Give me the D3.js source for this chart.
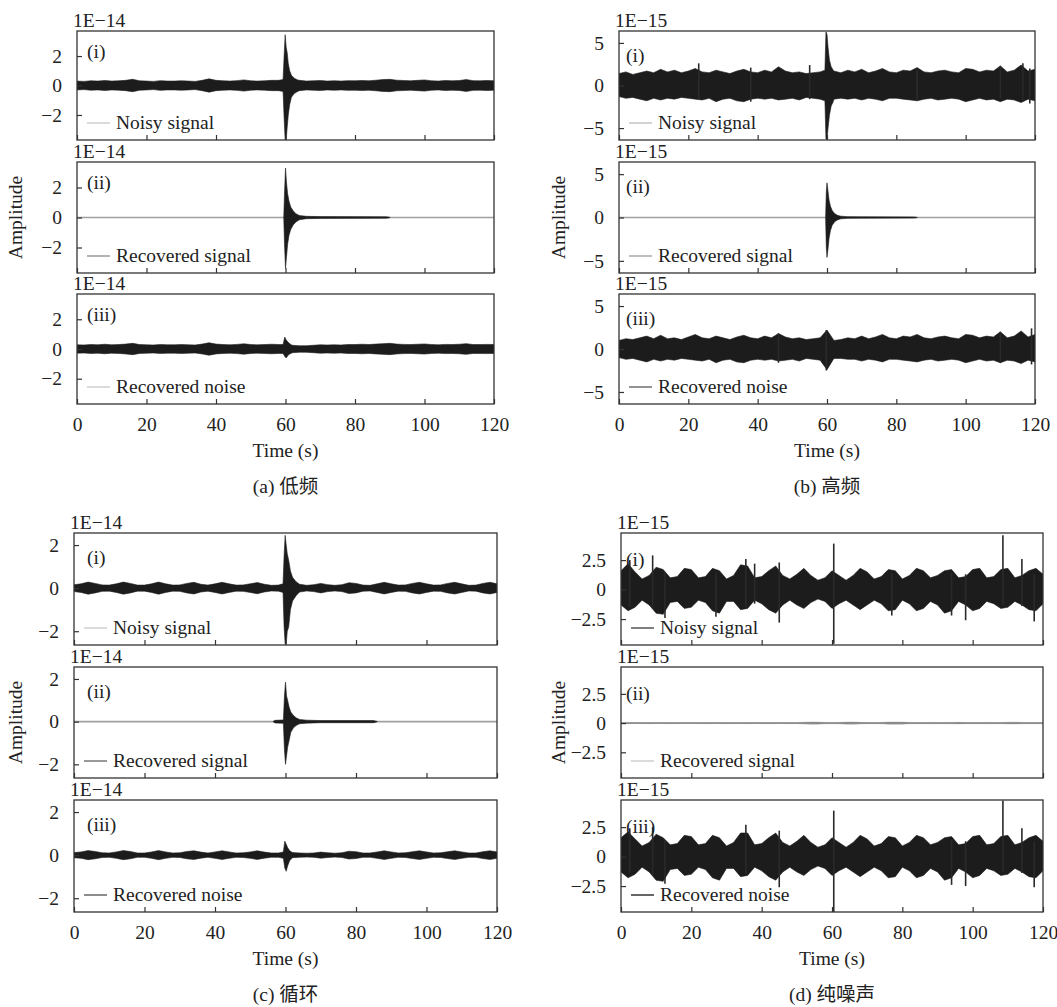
<!DOCTYPE html>
<html>
<head>
<meta charset="utf-8">
<script src="https://cdn.jsdelivr.net/npm/d3@7"></script>
<style>
  body { margin: 0; background: #fff; }
  svg text { font-family: "Liberation Serif", "Times New Roman", serif; fill: #222; }
</style>
</head>
<body>
<svg width="1057" height="1007"></svg>
<script>
// Time grid (s) used by the noise envelopes, and x ticks
const timeGrid = [0,2,4,6,8,10,12,14,16,18,20,22,24,26,28,30,32,34,36,38,40,42,44,46,48,50,52,54,56,58,
  60,62,64,66,68,70,72,74,76,78,80,82,84,86,88,90,92,94,96,98,100,102,104,106,108,110,112,114,116,118,120];
const timeTicks = [0, 20, 40, 60, 80, 100, 120];

// (a) low frequency, units 1E-14 — envelope amplitude read every 2 s
const aNoisyAmp = [0.30,0.28,0.32,0.30,0.34,0.30,0.32,0.35,0.42,0.32,0.30,0.28,0.33,0.30,0.30,0.32,0.30,0.28,0.35,0.45,
  0.35,0.32,0.30,0.33,0.38,0.32,0.30,0.32,0.35,0.35,0.60,0.50,0.35,0.30,0.32,0.34,0.30,0.32,0.30,0.33,
  0.32,0.34,0.32,0.36,0.40,0.42,0.36,0.34,0.32,0.35,0.38,0.32,0.30,0.34,0.32,0.34,0.40,0.33,0.32,0.34,0.32];
// burst: [time, upper, lower]
const aNoisyBurst = [[59.3,0.4,-0.4],[59.6,2.0,-2.2],[59.9,3.45,-3.7],[60.2,2.6,-3.7],[60.5,2.2,-2.8],[60.8,1.5,-2.0],
  [61.2,1.0,-1.3],[61.7,0.7,-0.8],[62.5,0.5,-0.55],[63.5,0.38,-0.4]];
const aSignalBurst = [[59.5,0.02,-0.02],[59.7,1.5,-1.7],[60.0,3.3,-3.4],[60.3,2.3,-2.6],[60.6,1.6,-1.8],[61.0,1.1,-1.2],
  [61.5,0.7,-0.8],[62.2,0.45,-0.5],[63,0.25,-0.3],[64,0.13,-0.15],[66,0.08,-0.08],[70,0.06,-0.06],[89,0.05,-0.05],[90,0.02,-0.02]];
const aNoiseAmp = [0.28,0.27,0.30,0.28,0.32,0.28,0.30,0.33,0.38,0.30,0.28,0.27,0.30,0.28,0.28,0.30,0.28,0.27,0.33,0.42,
  0.33,0.30,0.28,0.31,0.35,0.30,0.28,0.30,0.32,0.30,0.60,0.25,0.22,0.22,0.25,0.28,0.27,0.28,0.27,0.30,
  0.30,0.32,0.30,0.33,0.36,0.38,0.33,0.31,0.30,0.32,0.34,0.30,0.28,0.31,0.30,0.32,0.36,0.30,0.30,0.31,0.30];
const aNoiseBurst = [[59.3,0.3,-0.3],[59.8,0.8,-0.5],[60.2,0.6,-0.6],[60.8,0.45,-0.4],[61.5,0.3,-0.3]];

// (b) high frequency, units 1E-15
const bNoisyHi = [1.4,1.6,1.3,1.5,1.7,1.5,1.9,1.6,1.8,1.5,1.7,2.0,1.6,1.5,1.8,1.6,1.4,1.7,1.9,1.6,
  1.5,1.8,1.6,2.2,1.7,1.5,1.6,1.4,1.5,1.6,6.0,1.7,1.5,1.8,1.6,1.9,1.5,1.7,2.0,1.6,
  1.5,1.8,1.7,2.1,1.6,1.5,1.7,1.8,1.6,1.5,2.0,1.9,1.6,1.8,1.7,2.3,1.6,1.8,2.4,1.7,1.9];
const bNoisyLo = [-1.3,-1.5,-1.4,-1.6,-1.8,-1.5,-1.7,-1.5,-1.6,-1.4,-1.5,-1.6,-1.7,-1.5,-1.9,-1.6,-1.5,-1.8,-1.9,-1.6,
  -1.5,-1.6,-1.5,-1.7,-1.6,-1.5,-1.7,-1.4,-1.5,-1.6,-6.0,-1.6,-1.5,-1.6,-1.5,-1.7,-1.5,-1.6,-1.8,-1.5,
  -1.5,-1.6,-1.7,-1.8,-1.6,-1.5,-1.7,-1.6,-1.5,-1.6,-1.9,-1.7,-1.5,-1.7,-1.6,-1.9,-1.6,-1.7,-2.0,-1.6,-1.8];
const bNoisyBurst = [[59.4,1.8,-1.8],[59.7,6.3,-6.3],[60.0,6.0,-6.3],[60.3,4.5,-5.0],[60.7,3.0,-3.5],[61.2,2.2,-2.4],[61.8,1.8,-1.9]];
const bNoisySpikes = [[23,2.6,-1.6],[38,2.1,-1.9],[55,2.4,-1.6],[86,2.0,-1.8],[110,2.3,-1.5],[116.5,2.6,-1.7],[118.5,2.0,-2.1]];
const bSignalBurst = [[59.6,0.02,-0.02],[59.8,3.0,-3.5],[60.0,4.0,-4.6],[60.3,3.0,-3.6],[60.6,2.0,-2.4],[61.0,1.3,-1.5],
  [61.5,0.8,-0.9],[62.2,0.45,-0.5],[63,0.25,-0.28],[64,0.15,-0.15],[66,0.1,-0.1],[70,0.08,-0.08],[85,0.07,-0.07],[86,0.02,-0.02]];
const bNoiseHi = [1.0,1.2,1.1,1.3,1.5,1.2,1.6,1.2,1.3,1.1,1.4,1.7,1.3,1.2,1.5,1.3,1.1,1.4,1.6,1.3,
  1.2,1.5,1.3,1.8,1.4,1.2,1.3,1.1,1.2,1.3,2.2,1.0,1.1,1.3,1.2,1.5,1.2,1.4,1.7,1.3,
  1.2,1.5,1.4,1.7,1.3,1.2,1.4,1.5,1.3,1.2,1.7,1.6,1.3,1.5,1.4,2.0,1.3,1.5,2.1,1.4,1.7];
const bNoiseLo = [-1.0,-1.2,-1.1,-1.3,-1.5,-1.2,-1.4,-1.2,-1.3,-1.1,-1.2,-1.3,-1.4,-1.2,-1.6,-1.3,-1.2,-1.5,-1.6,-1.3,
  -1.2,-1.3,-1.2,-1.4,-1.3,-1.2,-1.4,-1.1,-1.2,-1.3,-2.4,-1.1,-1.1,-1.2,-1.2,-1.4,-1.2,-1.3,-1.5,-1.2,
  -1.2,-1.3,-1.4,-1.5,-1.3,-1.2,-1.4,-1.3,-1.2,-1.3,-1.6,-1.4,-1.2,-1.4,-1.3,-1.6,-1.3,-1.4,-1.7,-1.3,-1.5];
const bNoiseSpikes = [[46,1.8,-1.6],[59.8,2.2,-2.5],[110,2.0,-1.6],[119,2.4,-1.8]];

// (c) cyclic, units 1E-14
const cNoisyAmp = [0.16,0.20,0.28,0.22,0.15,0.14,0.20,0.28,0.22,0.14,0.14,0.20,0.28,0.20,0.14,0.15,0.22,0.27,0.18,0.14,
  0.20,0.27,0.20,0.14,0.15,0.20,0.26,0.18,0.13,0.14,0.50,0.30,0.15,0.13,0.16,0.22,0.16,0.13,0.16,0.25,
  0.22,0.14,0.13,0.20,0.27,0.20,0.14,0.15,0.22,0.27,0.20,0.14,0.15,0.22,0.27,0.20,0.13,0.14,0.22,0.27,0.20];
const cNoisyBurst = [[59.3,0.2,-0.2],[59.6,1.5,-1.8],[59.9,2.45,-2.6],[60.2,2.0,-2.6],[60.5,1.6,-2.0],[60.9,1.3,-1.8],
  [61.4,0.8,-1.0],[62,0.5,-0.6],[63,0.3,-0.35],[64,0.18,-0.18]];
const cSignalBurst = [[56.5,0.01,-0.01],[57,0.06,-0.06],[59.4,0.08,-0.08],[59.7,1.2,-1.3],[60.0,1.85,-2.0],[60.3,1.2,-1.6],
  [60.6,1.0,-1.2],[61.0,0.7,-0.9],[61.5,0.45,-0.5],[62.2,0.3,-0.3],[63,0.18,-0.18],[64,0.1,-0.1],[66,0.07,-0.07],
  [70,0.05,-0.05],[85,0.05,-0.05],[86,0.01,-0.01]];
const cNoiseAmp = [0.12,0.15,0.21,0.17,0.11,0.10,0.15,0.21,0.17,0.10,0.10,0.15,0.21,0.15,0.10,0.11,0.17,0.20,0.14,0.10,
  0.15,0.20,0.15,0.10,0.11,0.15,0.20,0.14,0.10,0.10,0.40,0.15,0.10,0.09,0.10,0.14,0.11,0.09,0.11,0.18,
  0.16,0.10,0.10,0.15,0.20,0.15,0.10,0.11,0.16,0.20,0.15,0.10,0.11,0.16,0.20,0.15,0.10,0.10,0.16,0.20,0.15];
const cNoiseBurst = [[59.4,0.15,-0.15],[59.8,0.65,-0.6],[60.2,0.5,-0.75],[60.6,0.35,-0.5],[61.2,0.2,-0.25],[62,0.12,-0.12]];

// (d) pure noise, units 1E-15
const dNoisyHi = [1.6,2.2,1.5,0.9,1.2,1.9,1.7,1.0,1.1,1.8,1.7,1.0,1.1,1.8,1.6,0.9,1.2,2.1,2.0,1.0,
  1.1,1.6,2.0,1.2,0.9,1.3,1.8,1.2,0.8,1.0,1.6,1.2,0.8,1.2,1.8,1.5,0.9,1.1,1.7,1.6,
  0.9,1.2,1.8,1.6,1.0,1.2,1.6,1.7,1.0,1.1,1.7,1.8,1.0,1.1,1.7,1.8,1.0,1.2,1.6,1.8,1.3];
const dNoisyLo = [-1.3,-1.8,-1.5,-0.9,-1.3,-2.0,-2.1,-1.1,-1.0,-1.6,-1.5,-0.9,-1.1,-1.8,-2.0,-1.0,-1.0,-1.7,-1.6,-0.9,
  -1.2,-1.7,-2.0,-1.3,-0.9,-1.3,-1.6,-1.1,-0.8,-1.0,-1.6,-1.2,-0.9,-1.3,-1.7,-1.3,-0.9,-1.2,-1.8,-1.7,
  -0.9,-1.2,-1.8,-1.6,-1.0,-1.3,-2.0,-1.8,-1.0,-1.3,-1.8,-1.6,-1.0,-1.2,-1.6,-1.5,-1.0,-1.3,-1.7,-1.8,-1.2];
const dNoisySpikes = [[2.5,2.5,-1.5],[9,2.9,-1.5],[12.5,1.5,-2.4],[27,1.5,-2.3],[35.5,2.6,-1.5],[38,2.2,-1.2],[45,2.3,-2.8],
  [60.5,3.9,-4.6],[77,1.4,-2.2],[94,1.4,-2.2],[98,1.3,-2.6],[108.6,4.6,-1.3],[114,2.6,-1.4],[117.5,1.3,-2.7]];
const dSignalAmp = [0.04,0.05,0.04,0.04,0.05,0.04,0.04,0.05,0.04,0.04,0.04,0.04,0.05,0.04,0.04,0.05,0.04,0.04,0.05,0.04,
  0.04,0.05,0.04,0.04,0.05,0.04,0.08,0.10,0.09,0.06,0.05,0.06,0.09,0.10,0.07,0.05,0.05,0.06,0.09,0.10,
  0.09,0.06,0.05,0.05,0.06,0.05,0.05,0.06,0.07,0.05,0.05,0.05,0.06,0.05,0.05,0.07,0.08,0.06,0.05,0.05,0.05];
const dNoiseHi = [1.6,2.1,1.5,0.9,1.2,1.9,1.6,1.0,1.1,1.8,1.7,1.0,1.1,1.8,1.6,0.9,1.2,2.0,2.0,1.0,
  1.1,1.6,2.0,1.2,0.9,1.3,1.8,1.2,0.8,1.0,1.6,1.2,0.8,1.2,1.8,1.5,0.9,1.1,1.7,1.6,
  0.9,1.2,1.8,1.6,1.0,1.2,1.6,1.7,1.0,1.1,1.7,1.8,1.0,1.1,1.7,1.8,1.0,1.2,1.6,1.8,1.3];
const dNoiseLo = [-1.3,-1.8,-1.5,-0.9,-1.3,-2.0,-2.1,-1.1,-1.0,-1.6,-1.5,-0.9,-1.1,-1.8,-2.0,-1.0,-1.0,-1.7,-1.6,-0.9,
  -1.2,-1.7,-2.0,-1.3,-0.9,-1.3,-1.6,-1.1,-0.8,-1.0,-1.6,-1.2,-0.9,-1.3,-1.7,-1.3,-0.9,-1.2,-1.8,-1.7,
  -0.9,-1.2,-1.8,-1.6,-1.0,-1.3,-2.0,-1.8,-1.0,-1.3,-1.8,-1.6,-1.0,-1.2,-1.6,-1.5,-1.0,-1.3,-1.7,-1.8,-1.2];
const dNoiseSpikes = [[2.5,2.4,-1.4],[9,2.5,-1.6],[12.5,1.4,-2.3],[35.5,2.7,-1.5],[45,2.2,-2.6],[60.5,3.9,-4.7],
  [94,1.4,-2.4],[98,1.3,-2.5],[108.6,4.75,-1.3],[114,2.4,-1.4],[117.5,1.3,-2.6]];

const neg = a => a.map(v => -v);

// panel layout
const panels = [
  { caption: "(a) 低频", exp: "1E−14", x0: 77, x1: 494, rows: [[31,140],[162,273],[294,404]],
    domain: [-3.7, 3.7], ticks: [-2, 0, 2], romanDx: 10, romanDy: 27, ampX: 15,
    traces: [
      { roman: "(i)", name: "Noisy signal", legend: "#cfcfcf", hi: aNoisyAmp, lo: neg(aNoisyAmp), burst: aNoisyBurst },
      { roman: "(ii)", name: "Recovered signal", legend: "#9a9a9a", flat: true, burst: aSignalBurst },
      { roman: "(iii)", name: "Recovered noise", legend: "#cfcfcf", hi: aNoiseAmp, lo: neg(aNoiseAmp), burst: aNoiseBurst }
    ] },
  { caption: "(b) 高频", exp: "1E−15", x0: 619, x1: 1035, rows: [[31,140],[162,273],[294,404]],
    domain: [-6.4, 6.4], ticks: [-5, 0, 5], romanDx: 7, romanDy: 31, ampX: 558,
    traces: [
      { roman: "(i)", name: "Noisy signal", legend: "#c4c4c4", hi: bNoisyHi, lo: bNoisyLo, burst: bNoisyBurst, spikes: bNoisySpikes },
      { roman: "(ii)", name: "Recovered signal", legend: "#a8a8a8", flat: true, burst: bSignalBurst },
      { roman: "(iii)", name: "Recovered noise", legend: "#6e6e6e", hi: bNoiseHi, lo: bNoiseLo, spikes: bNoiseSpikes }
    ] },
  { caption: "(c) 循环", exp: "1E−14", x0: 74, x1: 497, rows: [[533,645],[667,778],[800,912]],
    domain: [-2.64, 2.56], ticks: [-2, 0, 2], romanDx: 13, romanDy: 31, ampX: 15,
    traces: [
      { roman: "(i)", name: "Noisy signal", legend: "#d0d0d0", hi: cNoisyAmp, lo: neg(cNoisyAmp), burst: cNoisyBurst },
      { roman: "(ii)", name: "Recovered signal", legend: "#777", flat: true, burst: cSignalBurst },
      { roman: "(iii)", name: "Recovered noise", legend: "#666", hi: cNoiseAmp, lo: neg(cNoiseAmp), burst: cNoiseBurst }
    ] },
  { caption: "(d) 纯噪声", exp: "1E−15", x0: 621, x1: 1043, rows: [[533,645],[667,778],[800,912]],
    domain: [-4.7, 4.8], ticks: [-2.5, 0, 2.5], romanDx: 5, romanDy: 33, ampX: 558,
    traces: [
      { roman: "(i)", name: "Noisy signal", legend: "#555", hi: dNoisyHi, lo: dNoisyLo, spikes: dNoisySpikes },
      { roman: "(ii)", name: "Recovered signal", legend: "#cfcfcf", flat: true, hi: dSignalAmp, lo: neg(dSignalAmp), faint: true },
      { roman: "(iii)", name: "Recovered noise", legend: "#333", hi: dNoiseHi, lo: dNoiseLo, spikes: dNoiseSpikes }
    ] }
];

const svg = d3.select("svg");
const fmt = d => d === 0 ? "0" : (d < 0 ? "−" : "") + Math.abs(d);
const FS = 19.5;

// merge the 2 s envelope with the finer burst points
function envelope(tr) {
  const b = tr.burst || [];
  const b0 = b.length ? b[0][0] : Infinity, b1 = b.length ? b[b.length - 1][0] : -Infinity;
  const pts = [];
  if (tr.hi) timeGrid.forEach((t, i) => { if (t < b0 || t > b1) pts.push([t, tr.hi[i], tr.lo[i]]); });
  b.forEach(p => pts.push(p));
  return pts.sort((p, q) => p[0] - q[0]);
}

panels.forEach((p, pi) => {
  const x = d3.scaleLinear().domain([0, 120]).range([p.x0, p.x1]);

  p.traces.forEach((tr, ti) => {
    const [top, bottom] = p.rows[ti];
    const y = d3.scaleLinear().domain(p.domain).range([bottom, top]);
    const g = svg.append("g");
    const clipId = `clip-${pi}-${ti}`;
    g.append("clipPath").attr("id", clipId)
      .append("rect").attr("x", p.x0).attr("y", top).attr("width", p.x1 - p.x0).attr("height", bottom - top);
    const plot = g.append("g").attr("clip-path", `url(#${clipId})`);

    // flat zero line for the recovered signals
    if (tr.flat) {
      plot.append("line")
        .attr("x1", x(0)).attr("x2", x(120)).attr("y1", y(0)).attr("y2", y(0))
        .attr("stroke", "#a0a0a0").attr("stroke-width", 1.6);
    }

    const area = d3.area()
      .x(d => x(d[0])).y0(d => y(d[2])).y1(d => y(d[1]));
    const ink = tr.faint ? "#8a8a8a" : "#1c1c1c";
    plot.append("path")
      .datum(envelope(tr))
      .attr("d", area)
      .attr("fill", ink).attr("stroke", ink).attr("stroke-width", tr.faint ? 0.3 : 0.6)
      .attr("stroke-linejoin", "round");

    if (tr.spikes) {
      plot.selectAll(".spike").data(tr.spikes).join("line")
        .attr("x1", d => x(d[0])).attr("x2", d => x(d[0]))
        .attr("y1", d => y(d[1])).attr("y2", d => y(d[2]))
        .attr("stroke", "#2a2a2a").attr("stroke-width", 1.6);
    }

    // axes
    const isLast = ti === 2;
    const xAxis = d3.axisBottom(x).tickValues(timeTicks).tickSizeInner(-5).tickSizeOuter(0).tickPadding(13)
      .tickFormat(isLast ? d3.format("d") : () => "");
    const gx = g.append("g").attr("transform", `translate(0,${bottom})`).call(xAxis);
    const yAxis = d3.axisLeft(y).tickValues(p.ticks).tickSizeInner(-5).tickSizeOuter(0).tickPadding(15).tickFormat(fmt);
    const gy = g.append("g").attr("transform", `translate(${p.x0},0)`).call(yAxis);
    [gx, gy].forEach(a => {
      a.select(".domain").remove();
      a.selectAll("line").attr("stroke", "#333").attr("stroke-width", 1.2);
      a.selectAll("text").attr("font-size", FS).attr("font-family", "Liberation Serif, serif").attr("fill", "#222");
    });

    // frame
    g.append("rect")
      .attr("x", p.x0).attr("y", top).attr("width", p.x1 - p.x0).attr("height", bottom - top)
      .attr("fill", "none").attr("stroke", "#333").attr("stroke-width", 1.3);

    // exponent label, subplot number, legend
    g.append("text").attr("x", p.x0 - 4).attr("y", top - 4).attr("font-size", FS).text(p.exp);
    g.append("text").attr("x", p.x0 + p.romanDx).attr("y", top + p.romanDy).attr("font-size", FS).text(tr.roman);
    g.append("line")
      .attr("x1", p.x0 + 10).attr("x2", p.x0 + 33).attr("y1", bottom - 17).attr("y2", bottom - 17)
      .attr("stroke", tr.legend).attr("stroke-width", 1.5);
    g.append("text").attr("x", p.x0 + 39).attr("y", bottom - 11).attr("font-size", FS).text(tr.name);
  });

  const cx = (p.x0 + p.x1) / 2;
  const last = p.rows[2][1];
  const mid = (p.rows[1][0] + p.rows[1][1]) / 2;
  svg.append("text").attr("x", cx).attr("y", last + 53).attr("text-anchor", "middle").attr("font-size", FS).text("Time (s)");
  svg.append("text").attr("x", cx).attr("y", last + 89).attr("text-anchor", "middle").attr("font-size", 19.5)
    .style("font-family", "'Liberation Serif', 'Noto Sans CJK SC', serif").text(p.caption);
  svg.append("text").attr("transform", `translate(${p.ampX},${mid}) rotate(-90)`)
    .attr("dy", "0.35em").attr("text-anchor", "middle").attr("font-size", FS).text("Amplitude");
});
</script>
</body>
</html>
